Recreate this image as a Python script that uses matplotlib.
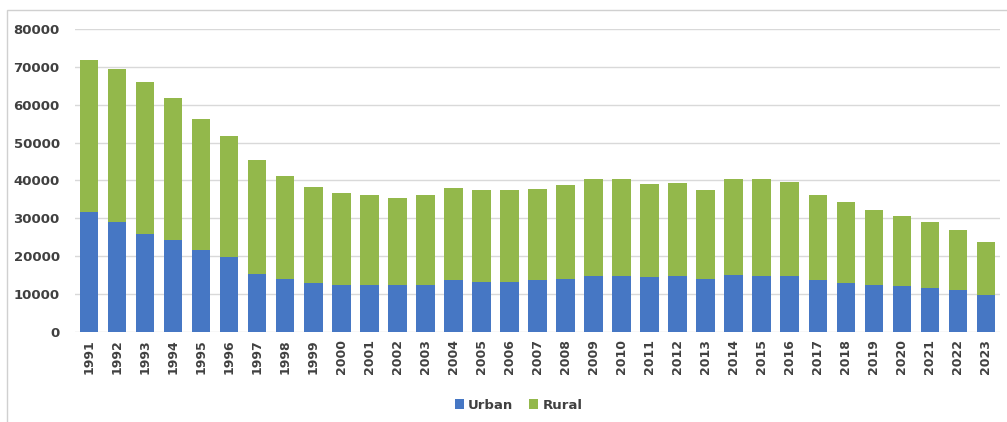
import matplotlib
matplotlib.use("Agg")
import matplotlib.pyplot as plt
from matplotlib.patches import Rectangle
import numpy as np

# values
years = [str(y) for y in range(1991, 2024)]
total = [71800, 69500, 66100, 61900, 56300, 51700, 45400, 41200, 38200, 36800,
         36300, 35400, 36300, 38000, 37600, 37400, 37800, 38800, 40500, 40300,
         39200, 39300, 37600, 40500, 40300, 39500, 36100, 34400, 32200, 30500,
         29100, 26800, 23800]
urban = [31600, 29000, 25800, 24300, 21600, 19700, 15400, 14000, 12900, 12400,
         12300, 12400, 12500, 13800, 13300, 13200, 13600, 14000, 14700, 14900,
         14400, 14700, 13900, 15000, 14800, 14800, 13600, 13000, 12500, 12100,
         11600, 11100, 9800]
rural = [t - u for t, u in zip(total, urban)]

BLUE = "#4677C4"
GREEN = "#93B84B"
TXT = "#404040"

fig = plt.figure(figsize=(10.07, 4.22), dpi=100)
ax = fig.add_axes([0.0745, 0.2133, 0.9185, 0.718])

x = np.arange(len(years))
ax.bar(x, urban, width=0.66, color=BLUE, label="Urban", zorder=3)
ax.bar(x, rural, width=0.66, bottom=urban, color=GREEN, label="Rural", zorder=3)

ax.set_xlim(-0.5, len(years) - 0.5)
ax.set_ylim(0, 80000)
ax.set_yticks(range(0, 80001, 10000))
ax.grid(axis="y", color="#d9d9d9", linewidth=1, zorder=0)
for s in ax.spines.values():
    s.set_visible(False)
ax.tick_params(length=0)
ax.tick_params(axis="y", pad=11)
ax.tick_params(axis="x", pad=5)
ax.set_xticks(x)
ax.set_xticklabels(years, rotation=90)
for lab in ax.get_yticklabels():
    lab.set_fontsize(9.5)
    lab.set_fontweight("bold")
    lab.set_color(TXT)
for lab in ax.get_xticklabels():
    lab.set_fontsize(9)
    lab.set_fontweight("bold")
    lab.set_color(TXT)

leg = fig.legend(loc="center", bbox_to_anchor=(0.515, 0.04), ncol=2, frameon=False,
                 handlelength=0.7, handleheight=0.7, handletextpad=0.3,
                 columnspacing=1.2, prop={"size": 9.5, "weight": "bold"})
for t in leg.get_texts():
    t.set_color(TXT)

# light chart-area border (top and left edges visible)
fig.add_artist(Rectangle((7 / 1007, -0.01), 1.1, 1 - 10 / 422 + 0.01,
                         transform=fig.transFigure, fill=False,
                         edgecolor="#d0d0d0", linewidth=1))

fig.savefig("out.png", dpi=100)
